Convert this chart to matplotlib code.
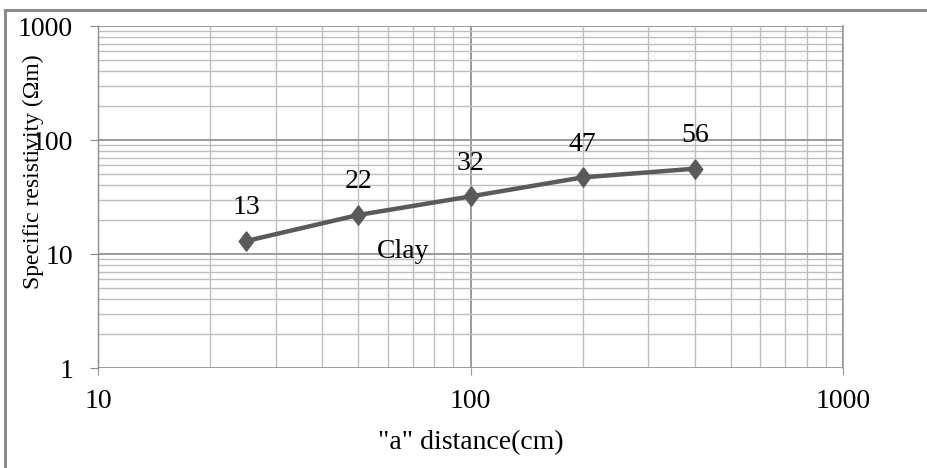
import matplotlib
matplotlib.use("Agg")
import matplotlib.pyplot as plt
from matplotlib.patches import Rectangle
from matplotlib.ticker import LogLocator, FixedLocator, NullFormatter

distance_cm = [25, 50, 100, 200, 400]
resistivity = [13, 22, 32, 47, 56]
value_labels = ["13", "22", "32", "47", "56"]
x_ticks = [10, 100, 1000]
x_tick_labels = ["10", "100", "1000"]
y_ticks = [1, 10, 100, 1000]
y_tick_labels = ["1", "10", "100", "1000"]

plt.rcParams['font.family'] = ['Liberation Serif', 'DejaVu Serif']

fig = plt.figure(figsize=(9.27, 4.68), dpi=100)
ax = fig.add_axes([98/927, 1-368/468, (843-98)/927, (368-26)/468])

ax.set_xscale('log')
ax.set_yscale('log')
ax.set_xlim(10, 1000)
ax.set_ylim(1, 1000)

ax.xaxis.set_major_locator(FixedLocator(x_ticks))
ax.yaxis.set_major_locator(FixedLocator(y_ticks))
ax.set_xticklabels(x_tick_labels)
ax.set_yticklabels(y_tick_labels)
ax.xaxis.set_minor_locator(LogLocator(base=10, subs=range(2, 10)))
ax.yaxis.set_minor_locator(LogLocator(base=10, subs=range(2, 10)))
ax.xaxis.set_minor_formatter(NullFormatter())
ax.yaxis.set_minor_formatter(NullFormatter())

ax.grid(which='major', color='#9a9a9a', linewidth=1.4)
ax.grid(which='minor', color='#bdbdbd', linewidth=1.0)
ax.set_axisbelow(True)

for s in ['top', 'bottom']:
    ax.spines[s].set_visible(False)
ax.spines['left'].set_color('#8c8c8c')
ax.spines['right'].set_color('#9a9a9a')
ax.spines['left'].set_linewidth(1.0)
ax.spines['right'].set_linewidth(1.2)

ax.tick_params(axis='y', which='major', direction='out', length=6, color='#8c8c8c',
               labelsize=20, pad=12)
ax.tick_params(axis='x', which='major', direction='out', length=5, color='#9a9a9a',
               labelsize=20, pad=10)
ax.tick_params(which='minor', length=0)

diamond = [(0, 1), (0.75, 0), (0, -1), (-0.75, 0), (0, 1)]
ax.plot(distance_cm, resistivity, color='#5a5a5a', linewidth=3.2,
        marker=diamond, markersize=14, markerfacecolor='#5a5a5a',
        markeredgecolor='#5a5a5a', zorder=5, clip_on=False)

for x, y, t in zip(distance_cm, resistivity, value_labels):
    ax.annotate(t, (x, y), xytext=(0, 24), textcoords='offset points',
                ha='center', va='center', fontsize=20, color='black')

ax.text(66, 10.6, "Clay", ha='center', va='center', fontsize=20, color='black')

ax.set_xlabel('"a" distance(cm)', fontsize=20, labelpad=12)
ax.set_ylabel('Specific resistivity (\u03a9m)', fontsize=17)
ax.yaxis.set_label_coords(-0.073, 0.573)

fig.patches.append(Rectangle((5/927, -0.05), 1.1, 1 - 10/468 + 0.05,
                             transform=fig.transFigure, fill=False,
                             edgecolor='#8a8a8a', linewidth=2.2))

fig.savefig('out.png', dpi=100)
